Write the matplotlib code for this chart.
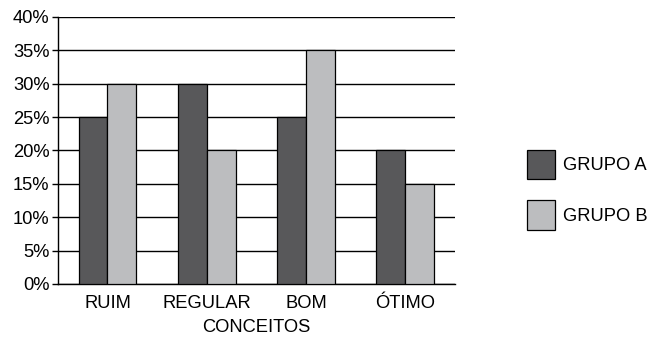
import matplotlib
matplotlib.use("Agg")
import matplotlib.pyplot as plt
import numpy as np

plt.rcParams['font.family'] = ['Liberation Sans', 'DejaVu Sans']

categorias = ["RUIM", "REGULAR", "BOM", "ÓTIMO"]
grupo_a = [25, 30, 25, 20]
grupo_b = [30, 20, 35, 15]
yticks = [0, 5, 10, 15, 20, 25, 30, 35, 40]

fs = 13.2

fig = plt.figure(figsize=(6.65, 3.38), dpi=100)
ax = fig.add_axes([0.087, 0.160, 0.597, 0.790])

x = np.arange(len(categorias)) + 0.5
w = 0.29
ax.bar(x - w / 2, grupo_a, w, color="#58585a", edgecolor="black", linewidth=0.9,
       label="GRUPO A", zorder=3)
ax.bar(x + w / 2, grupo_b, w, color="#bcbdbf", edgecolor="black", linewidth=0.9,
       label="GRUPO B", zorder=3)

ax.set_xlim(0, 4)
ax.set_ylim(0, 40)
ax.set_yticks(yticks)
ax.set_yticklabels([f"{v}%" for v in yticks], fontsize=fs)
ax.set_xticks(x)
ax.set_xticklabels(categorias, fontsize=fs)
ax.tick_params(axis="x", length=0, pad=8)
ax.tick_params(axis="y", length=4, width=1, pad=2)
ax.yaxis.grid(True, color="black", linewidth=1, zorder=0)
ax.set_axisbelow(True)
for s in ["top", "right"]:
    ax.spines[s].set_visible(False)
ax.spines["left"].set_linewidth(1)
ax.spines["bottom"].set_linewidth(1)
ax.set_xlabel("CONCEITOS", fontsize=fs, labelpad=5)

ax.legend(loc="center left", bbox_to_anchor=(1.181, 0.352), frameon=False,
          fontsize=fs, handlelength=1.55, handleheight=2.1, labelspacing=1.15,
          handletextpad=0.45, borderpad=0, borderaxespad=0)

fig.savefig("out.png", dpi=100)
